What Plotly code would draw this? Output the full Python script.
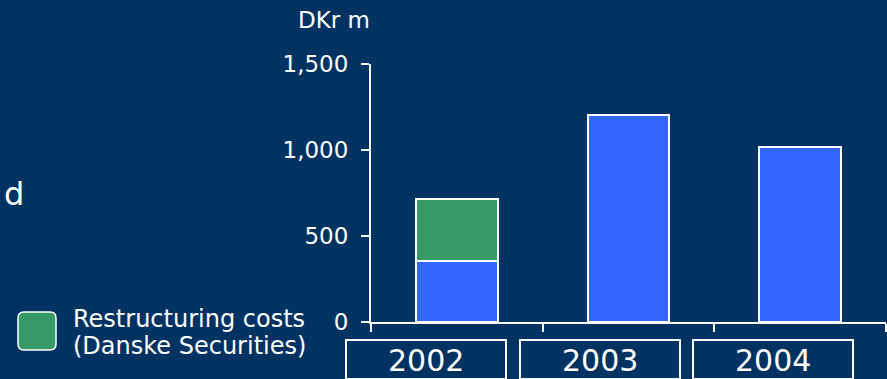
import plotly.graph_objects as go

categories = ["2002", "2003", "2004"]
base_values = [355, 1205, 1020]
restructuring_values = [362, 0, 0]
y_ticks = [0, 500, 1000, 1500]
y_tick_labels = ["0", "500", "1,000", "1,500"]
legend_lines = ["Restructuring costs", "(Danske Securities)"]

BG = "#003262"
BLUE = "#3366FF"
GREEN = "#379A66"
FONT = "DejaVu Sans"

fig = go.Figure()
fig.add_trace(go.Bar(x=categories, y=base_values, width=0.475, marker=dict(color=BLUE, line=dict(color="white", width=2)), showlegend=False))
fig.add_trace(go.Bar(x=categories, y=restructuring_values, width=0.475, marker=dict(color=GREEN, line=dict(color="white", width=2)), showlegend=False))

W, H = 887, 379
L, R, T, B = 371, 1, 64, 57
pw, ph = W - L - R, H - T - B

def px(x):
    return (x - L) / pw

def py(y):
    return (H - B - y) / ph

fig.update_layout(
    barmode="stack",
    width=W, height=H,
    margin=dict(l=L, r=R, t=T, b=B),
    paper_bgcolor=BG, plot_bgcolor=BG,
    font=dict(family=FONT, color="white"),
    bargap=0.5,
)
fig.update_xaxes(
    type="category", range=[-0.5, 2.5], showgrid=False, zeroline=False,
    showline=True, linecolor="white", linewidth=2,
    ticks="outside", tickson="boundaries", ticklen=8, tickwidth=2, tickcolor="white",
    showticklabels=False,
)
fig.update_yaxes(
    range=[0, 1500], showgrid=False, zeroline=False,
    showline=True, linecolor="white", linewidth=2,
    ticks="outside", ticklen=8, tickwidth=2, tickcolor="white",
    tickvals=y_ticks, ticktext=y_tick_labels, tickfont=dict(size=23, color="white"),
    ticklabelstandoff=8,
)

# category label boxes
box_centers = [426, 600, 773]
for c, cx in zip(categories, box_centers):
    fig.add_shape(type="rect", xref="paper", yref="paper",
                  x0=px(cx - 80), x1=px(cx + 80), y0=py(379), y1=py(340),
                  line=dict(color="white", width=2), fillcolor="rgba(0,0,0,0)")
    fig.add_annotation(x=px(cx), y=py(360), xref="paper", yref="paper", xanchor="center", yanchor="middle",
                       text=c, showarrow=False, font=dict(size=30, color="white"))

# unit label
fig.add_annotation(x=px(372), y=py(20), xref="paper", yref="paper", xanchor="right", yanchor="middle",
                   text="DKr m", showarrow=False, font=dict(size=23, color="white"))

# cut-off text at left
fig.add_annotation(x=px(2), y=py(194), xref="paper", yref="paper", xanchor="left", yanchor="middle",
                   text="d", showarrow=False, font=dict(size=32, color="white"))

# legend
x0, x1, y0, y1 = px(18), px(56), py(350), py(312)
rx, ry = 6 / pw, 6 / ph
path = (f"M {x0+rx},{y0} L {x1-rx},{y0} Q {x1},{y0} {x1},{y0+ry} L {x1},{y1-ry} Q {x1},{y1} {x1-rx},{y1} "
        f"L {x0+rx},{y1} Q {x0},{y1} {x0},{y1-ry} L {x0},{y0+ry} Q {x0},{y0} {x0+rx},{y0} Z")
fig.add_shape(type="path", path=path, xref="paper", yref="paper", fillcolor=GREEN,
              line=dict(color="white", width=1.5))
for line, yc in zip(legend_lines, [319, 346]):
    fig.add_annotation(x=px(71), y=py(yc), xref="paper", yref="paper", xanchor="left", yanchor="middle",
                       align="left", text=line, showarrow=False, font=dict(size=24, color="white"))

fig.write_html("out.html")
